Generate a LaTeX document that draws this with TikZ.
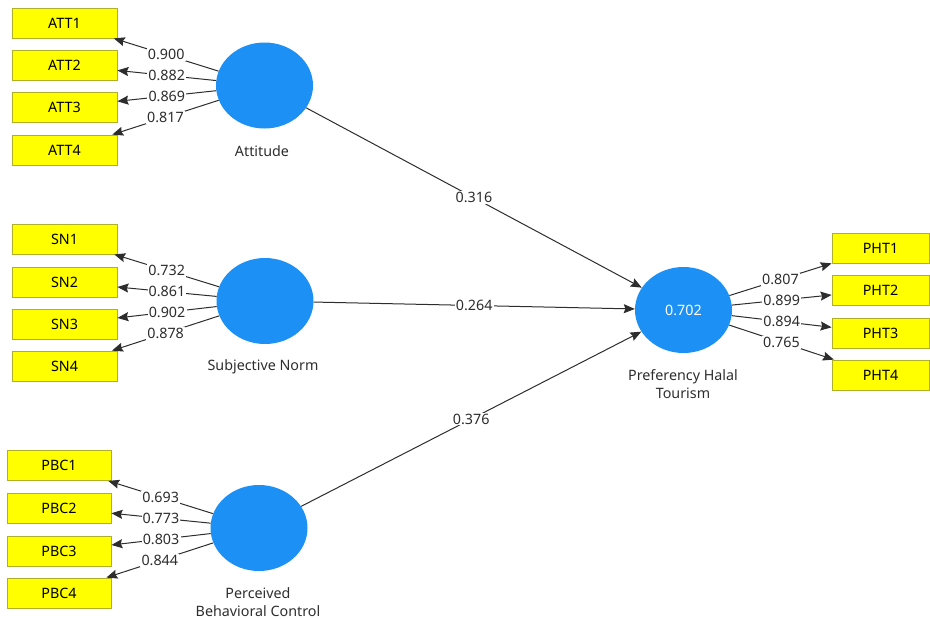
\documentclass[tikz,border=0pt]{standalone}
\usepackage{fontspec}
\setmainfont{Noto Sans}
\usetikzlibrary{shapes.geometric,arrows.meta}

\definecolor{latentblue}{RGB}{29,144,245}
\definecolor{itemyellow}{RGB}{255,255,0}
\definecolor{itemborder}{RGB}{175,175,40}
\definecolor{inkgray}{RGB}{45,45,45}
\definecolor{wiregray}{RGB}{45,45,45}

\tikzset{
  latent/.style={ellipse, fill=latentblue, draw=none, minimum width=97pt,
    minimum height=86pt, inner sep=0pt, text=white},
  item/.style={rectangle, fill=itemyellow, draw=itemborder, line width=0.8pt,
    minimum width=105pt, minimum height=30pt, inner sep=0pt, text=black},
  pitem/.style={item, minimum width=97pt},
  lname/.style={align=center, text=inkgray, inner sep=0pt},
  wire/.style={draw=wiregray, line width=1pt,
    -{Stealth[length=11pt,width=9pt,inset=1.5pt]}},
  coef/.style={fill=white, text=inkgray, inner sep=1.2pt, midway}
}

\begin{document}
\begin{tikzpicture}[x=1pt,y=-1pt,font=\fontsize{14.3}{18.5}\selectfont]
\useasboundingbox (0,0) rectangle (930,619);

% latent variables
\node[latent] (att) at (264.5,85.5) {};
\node[latent] (sn)  at (265,301) {};
\node[latent] (pbc) at (259,528) {};
\node[latent] (pht) at (683.5,310) {0.702};

\node[lname] (attname) at (262,151) {Attitude};
\node[lname] (snname)  at (263,367) {Subjective Norm};
\node[lname] (pbcname) at (258,602) {Perceived\\Behavioral Control};
\node[lname] (phtname) at (683,384) {Preferency Halal\\Tourism};

% indicators
\node[item] (att1) at (64.5,23)  {ATT1};
\node[item] (att2) at (64.5,65)  {ATT2};
\node[item] (att3) at (64.5,107) {ATT3};
\node[item] (att4) at (64.5,150) {ATT4};

\node[item] (sn1) at (64.5,239) {SN1};
\node[item] (sn2) at (64.5,282) {SN2};
\node[item] (sn3) at (64.5,324) {SN3};
\node[item] (sn4) at (64.5,366) {SN4};

\node[item,minimum width=104pt] (pbc1) at (59,465.5) {PBC1};
\node[item,minimum width=104pt] (pbc2) at (59,508)   {PBC2};
\node[item,minimum width=104pt] (pbc3) at (59,551)   {PBC3};
\node[item,minimum width=104pt] (pbc4) at (59,593)   {PBC4};

\node[pitem] (pht1) at (880.5,248) {PHT1};
\node[pitem] (pht2) at (880.5,290) {PHT2};
\node[pitem] (pht3) at (880.5,333) {PHT3};
\node[pitem] (pht4) at (880.5,375) {PHT4};

% outer loadings
\draw[wire] (att) -- node[coef] {0.900} (att1);
\draw[wire] (att) -- node[coef] {0.882} (att2);
\draw[wire] (att) -- node[coef] {0.869} (att3);
\draw[wire] (att) -- node[coef] {0.817} (att4);

\draw[wire] (sn) -- node[coef] {0.732} (sn1);
\draw[wire] (sn) -- node[coef] {0.861} (sn2);
\draw[wire] (sn) -- node[coef] {0.902} (sn3);
\draw[wire] (sn) -- node[coef] {0.878} (sn4);

\draw[wire] (pbc) -- node[coef] {0.693} (pbc1);
\draw[wire] (pbc) -- node[coef] {0.773} (pbc2);
\draw[wire] (pbc) -- node[coef] {0.803} (pbc3);
\draw[wire] (pbc) -- node[coef] {0.844} (pbc4);

\draw[wire] (pht) -- node[coef] {0.807} (pht1);
\draw[wire] (pht) -- node[coef] {0.899} (pht2);
\draw[wire] (pht) -- node[coef] {0.894} (pht3);
\draw[wire] (pht) -- node[coef] {0.765} (pht4);

% path coefficients
\draw[wire] (att) -- node[coef] {0.316} (pht);
\draw[wire] (sn)  -- node[coef] {0.264} (pht);
\draw[wire] (pbc) -- node[coef] {0.376} (pht);
\end{tikzpicture}
\end{document}
